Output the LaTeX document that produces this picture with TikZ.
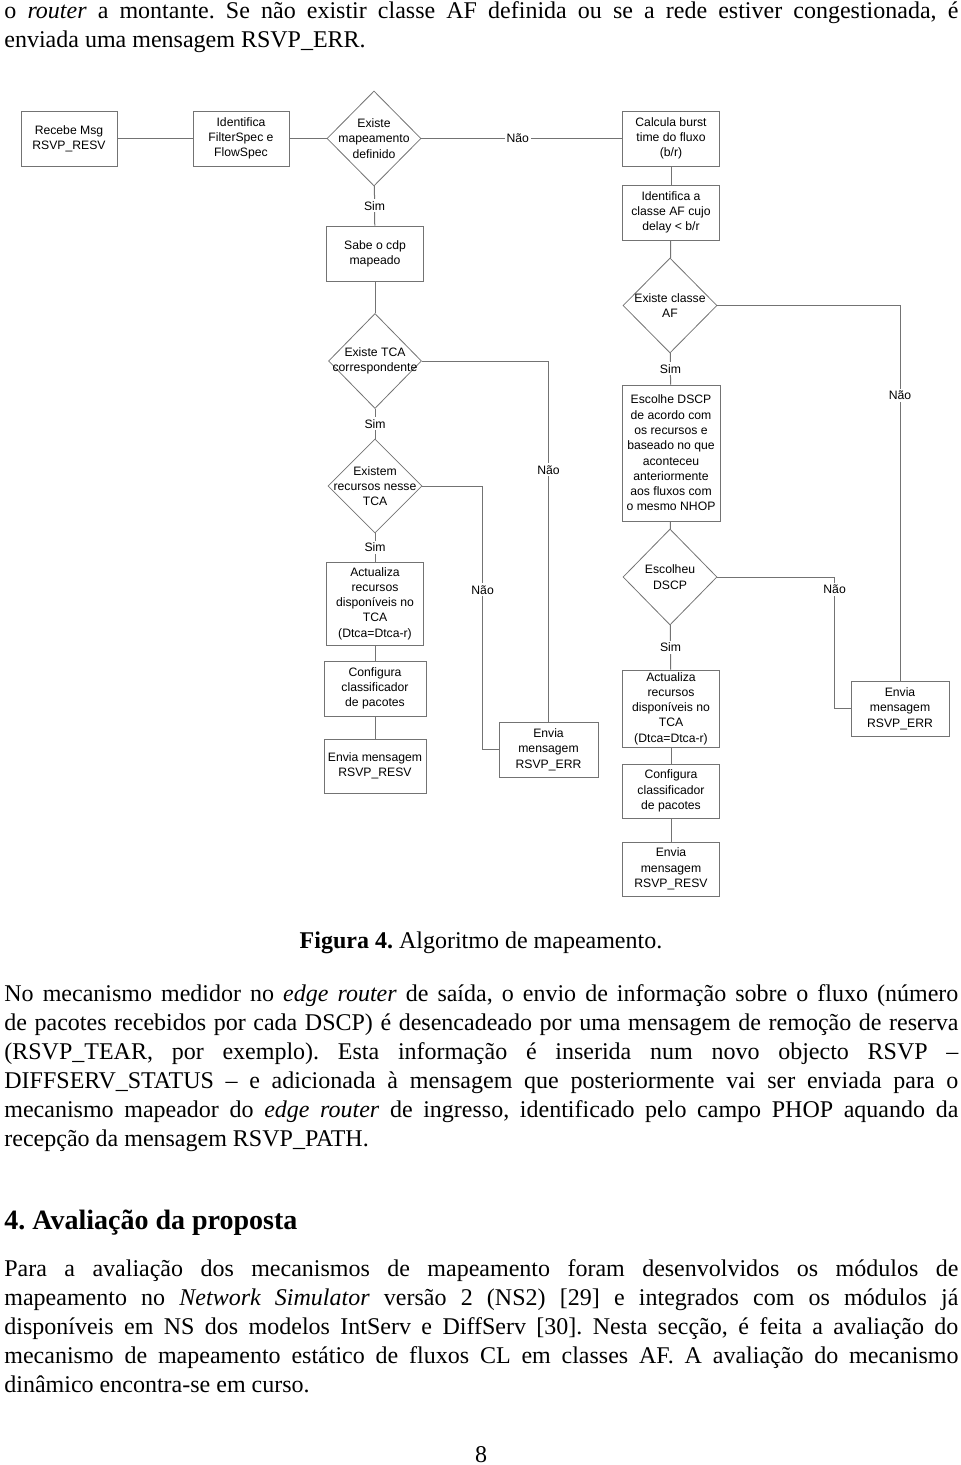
\documentclass[tikz,border=0pt]{standalone}
\usepackage{fontspec}
\setmainfont{Liberation Serif}
\newfontfamily\flowfont{Liberation Sans}
\usetikzlibrary{shapes.geometric}
\definecolor{lineg}{gray}{0.45}
\frenchspacing
\newcommand{\jline}[1]{\makebox[477pt][s]{#1}}
\newcommand{\flowsize}{\flowfont\fontsize{6.1pt}{7.65pt}\selectfont}
\newcommand{\bodysize}{\fontsize{12pt}{14.5pt}\selectfont}
\begin{document}
\begin{tikzpicture}[x=0.5pt,y=-0.5pt,
	blk/.style={draw=lineg, minimum width=48.5pt, minimum height=27.5pt, inner sep=0pt, align=center, font=\flowsize},
	dec/.style={draw=lineg, diamond, minimum width=47pt, minimum height=47.5pt, inner sep=0pt},
	dectxt/.style={align=center, inner sep=0pt, font=\flowsize},
	lbl/.style={fill=white, inner sep=1pt, font=\flowsize},
	ln/.style={draw=lineg, line width=0.5pt},
	txt/.style={anchor=base west, inner sep=0pt, font=\bodysize}]
	\useasboundingbox (0,0) rectangle (960,1465);
	
	% text above the figure
	\node[txt] (top1) at (4,19) {\jline{o \textit{router} a montante. Se não existir classe AF definida ou se a rede estiver congestionada, é}};
	\node[txt] (top2) at (4,48) {enviada uma mensagem RSVP\_ERR.};
	
	% left branch
	\node[blk, minimum width=48pt] (rcv) at (69,138.5) {Recebe Msg\\RSVP\_RESV};
	\node[blk, minimum width=48pt] (idf) at (241,138.5) {Identifica\\FilterSpec e\\FlowSpec};
	\node[dec, label={[dectxt]center:Existe\\mapeamento\\definido}] (map) at (374,138.5) {};
	\node[blk] (cdp) at (375,253.5) {Sabe o cdp\\mapeado};
	\node[dec, minimum width=46.5pt, label={[dectxt]center:Existe TCA\\correspondente}] (tca) at (375,361) {};
	\node[dec, minimum height=47pt, label={[dectxt]center:Existem\\recursos nesse\\TCA}] (res) at (375,486) {};
	\node[blk, minimum height=41.5pt] (updL) at (375,603.5) {Actualiza\\recursos\\disponíveis no\\TCA\\(Dtca=Dtca-r)};
	\node[blk, minimum width=51pt] (cfgL) at (375,688.5) {Configura\\classificador\\de pacotes};
	\node[blk, minimum width=51pt, minimum height=27pt] (resvL) at (375,766) {Envia mensagem\\RSVP\_RESV};
	\node[blk, minimum width=49.5pt] (errM) at (548.5,749.5) {Envia\\mensagem\\RSVP\_ERR};
	
	% right branch
	\node[blk] (burst) at (671,138.5) {Calcula burst\\time do fluxo\\(b/r)};
	\node[blk] (cls) at (671,212.5) {Identifica a\\classe AF cujo\\delay < b/r};
	\node[dec, label={[dectxt]center:Existe classe\\AF}] (af) at (670,305.5) {};
	\node[blk, minimum width=49pt, minimum height=68pt] (dscp) at (671,453) {Escolhe DSCP\\de acordo com\\os recursos e\\baseado no que\\aconteceu\\anteriormente\\aos fluxos com\\o mesmo NHOP};
	\node[dec, minimum height=48pt, label={[dectxt]center:Escolheu\\DSCP}] (chs) at (670,577) {};
	\node[blk, minimum height=38.5pt] (updR) at (671,708.5) {Actualiza\\recursos\\disponíveis no\\TCA\\(Dtca=Dtca-r)};
	\node[blk, minimum height=27pt] (cfgR) at (671,791) {Configura\\classificador\\de pacotes};
	\node[blk, minimum height=27pt] (resvR) at (671,869) {Envia\\mensagem\\RSVP\_RESV};
	\node[blk, minimum width=49pt] (errR) at (900,708.5) {Envia\\mensagem\\RSVP\_ERR};
	
	% connectors
	\draw[ln] (rcv) -- (idf);
	\draw[ln] (idf) -- (map);
	\draw[ln] (map) -- node[lbl,pos=0.48]{Não} (burst);
	\draw[ln] (map) -- node[lbl]{Sim} (cdp);
	\draw[ln] (cdp) -- (tca);
	\draw[ln] (tca) -- node[lbl]{Sim} (res);
	\draw[ln] (res) -- node[lbl]{Sim} (updL);
	\draw[ln] (updL) -- (cfgL);
	\draw[ln] (cfgL) -- (resvL);
	\draw[ln] (tca.east) -| node[lbl,pos=0.651]{Não} (errM.north);
	\draw[ln] (res.east) -| node[lbl,pos=0.697]{Não} ([xshift=-8pt]errM.west) -- (errM.west);
	\draw[ln] (burst) -- (cls);
	\draw[ln] (cls) -- (af);
	\draw[ln] (af) -- node[lbl]{Sim} (dscp);
	\draw[ln] (af.east) -| node[lbl,pos=0.62]{Não} (errR.north);
	\draw[ln] (dscp) -- (chs);
	\draw[ln] (chs) -- node[lbl]{Sim} (updR);
	\draw[ln] (chs.east) -| node[lbl,pos=0.546]{Não} ([xshift=-8pt]errR.west) -- (errR.west);
	\draw[ln] (updR) -- (cfgR);
	\draw[ln] (cfgR) -- (resvR);
	
	% caption and text below
	\node[anchor=base, inner sep=0pt, font=\bodysize] (cap) at (481,948) {\textbf{Figura 4.} Algoritmo de mapeamento.};
	\node[txt] (p1) at (4,1001) {\jline{No mecanismo medidor no \textit{edge router} de saída, o envio de informação sobre o fluxo (número}};
	\node[txt] (p2) at (4,1030) {\jline{de pacotes recebidos por cada DSCP) é desencadeado por uma mensagem de remoção de reserva}};
	\node[txt] (p3) at (4,1059) {\jline{(RSVP\_TEAR, por exemplo). Esta informação é inserida num novo objecto RSVP –}};
	\node[txt] (p4) at (4,1088) {\jline{DIFFSERV\_STATUS – e adicionada à mensagem que posteriormente vai ser enviada para o}};
	\node[txt] (p5) at (4,1117) {\jline{mecanismo mapeador do \textit{edge router} de ingresso, identificado pelo campo PHOP aquando da}};
	\node[txt] (p6) at (4,1146) {recepção da mensagem RSVP\_PATH.};
	
	\node[txt, font=\fontsize{14pt}{17pt}\selectfont\bfseries] (sec) at (4,1229) {4. Avaliação da proposta};
	\node[txt] (q1) at (4,1276) {\jline{Para a avaliação dos mecanismos de mapeamento foram desenvolvidos os módulos de}};
	\node[txt] (q2) at (4,1305) {\jline{mapeamento no \textit{Network Simulator} versão 2 (NS2) [29] e integrados com os módulos já}};
	\node[txt] (q3) at (4,1334) {\jline{disponíveis em NS dos modelos IntServ e DiffServ [30]. Nesta secção, é feita a avaliação do}};
	\node[txt] (q4) at (4,1363) {\jline{mecanismo de mapeamento estático de fluxos CL em classes AF. A avaliação do mecanismo}};
	\node[txt] (q5) at (4,1392) {dinâmico encontra-se em curso.};
	
	\node[anchor=base, inner sep=0pt, font=\bodysize] (pgno) at (481,1462) {8};
\end{tikzpicture}
\end{document}
